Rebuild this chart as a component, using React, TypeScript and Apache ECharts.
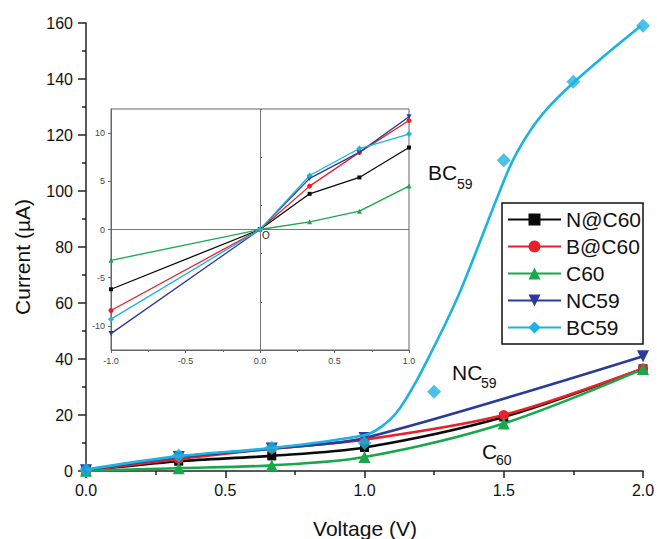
import React, { useEffect, useRef } from "react";
import * as echarts from "echarts";

// ---- main panel data (Voltage in V, Current in µA) ----
const voltage = [0, 0.333, 0.667, 1.0, 1.5, 2.0];
const nAtC60 = [0.2, 3.5, 5.4, 8.4, 19.3, 36.5];
const bAtC60 = [0.2, 4.3, 8.0, 11.2, 20.0, 36.6];
const c60 = [0.1, 1.0, 2.0, 5.0, 17.0, 36.4];
const nc59Voltage = [0, 0.333, 0.667, 1.0, 2.0];
const nc59 = [0.3, 5.0, 8.0, 11.8, 41.0];
const bc59Voltage = [0, 0.333, 0.667, 1.0, 1.25, 1.5, 1.75, 2.0];
const bc59 = [0.4, 5.5, 8.3, 10.0, 28.3, 111, 139, 159];
const bc59FitVoltage = [0, 0.333, 0.667, 1.0, 1.056, 1.116, 1.18, 1.235, 1.29, 1.343, 1.415, 1.478, 1.533, 1.605, 1.666, 1.749, 1.846, 1.992];
const bc59FitCurrent = [0.5, 5.3, 8.2, 12.8, 15.5, 21.0, 31.0, 41.5, 52.5, 64.0, 82.0, 98.0, 111.0, 123.0, 130.5, 138.6, 147.0, 158.9];

// ---- inset data ----
const insetVoltage = [-1, 0, 0.333, 0.667, 1];
const insetNAtC60 = [-6.2, 0, 3.7, 5.4, 8.5];
const insetBAtC60 = [-8.4, 0, 4.5, 8.0, 11.3];
const insetC60 = [-3.2, 0, 0.8, 1.9, 4.5];
const insetNC59 = [-10.8, 0, 5.3, 8.0, 11.7];
const insetBC59 = [-9.3, 0, 5.6, 8.4, 9.9];
const insetYTicks = [-10, -5, 0, 5, 10];
const insetYMinorTicks = [-12.5, -7.5, -2.5, 2.5, 7.5, 12.5];

const legendNames = ["N@C60", "B@C60", "C60", "NC59", "BC59"];

const FONT = "Liberation Sans, Arial, Helvetica, sans-serif";
const COL = {
  n: "#0a0a0a",
  b: "#e8212b",
  c: "#18a84b",
  nc: "#2b3b99",
  bc: "#1bb3e0",
};

const zip = (xs: number[], ys: number[]) => xs.map((x, i) => [x, ys[i]]);

export default function App() {
  const ref = useRef<HTMLDivElement>(null);

  useEffect(() => {
    if (!ref.current) return;
    const chart = echarts.init(ref.current, null, { renderer: "svg" });

    const mainLine = (name: string, xs: number[], ys: number[], color: string, symbol: string, size: number, rotate = 0) => ({
      name,
      type: "line",
      xAxisIndex: 0,
      yAxisIndex: 0,
      data: zip(xs, ys),
      smooth: 0.3,
      symbol,
      symbolSize: size,
      symbolRotate: rotate,
      lineStyle: { color, width: 2.6 },
      itemStyle: { color },
      z: 3,
    });

    const insetLine = (name: string, ys: number[], color: string, symbol: string, size: number, rotate = 0) => ({
      name,
      type: "line",
      xAxisIndex: 1,
      yAxisIndex: 1,
      data: zip(insetVoltage, ys),
      symbol,
      symbolSize: size,
      symbolRotate: rotate,
      lineStyle: { color, width: 1.3 },
      itemStyle: { color },
      z: 6,
    });

    const axisCol = "#222";
    const insetCol = "#666";

    chart.setOption({
      animation: false,
      backgroundColor: "#fff",
      textStyle: { fontFamily: FONT },
      grid: [
        { left: 86, top: 23, right: 14, bottom: 68, outerBoundsMode: "none", containLabel: false },
        {
          left: 111,
          top: 109,
          width: 298,
          height: 241,
          show: true,
          backgroundColor: "#fff",
          borderColor: insetCol,
          borderWidth: 1,
          outerBoundsMode: "none",
          containLabel: false,
          z: 5,
        },
      ],
      legend: {
        show: true,
        orient: "vertical",
        left: 502,
        top: 203,
        data: legendNames,
        itemWidth: 53,
        itemHeight: 15,
        itemGap: 6,
        padding: [6, 2, 6, 5],
        borderColor: "#111",
        borderWidth: 1.5,
        backgroundColor: "#fff",
        selectedMode: false,
        textStyle: { fontSize: 21, fontFamily: FONT, color: "#111" },
        z: 10,
      },
      xAxis: [
        {
          gridIndex: 0,
          type: "value",
          min: 0,
          max: 2,
          interval: 0.5,
          axisLine: { onZero: false, lineStyle: { color: axisCol, width: 1.5 } },
          axisTick: { show: true, length: 7, lineStyle: { color: axisCol, width: 1.5 } },
          minorTick: { show: true, splitNumber: 2, length: 4, lineStyle: { color: axisCol, width: 1.5 } },
          axisLabel: {
            fontSize: 16,
            color: "#111",
            fontFamily: FONT,
            margin: 11,
            formatter: (v: number) => v.toFixed(1),
          },
          splitLine: { show: false },
        },
        {
          gridIndex: 1,
          type: "value",
          min: -1,
          max: 1,
          interval: 0.5,
          axisLine: { onZero: false, lineStyle: { color: insetCol, width: 1 } },
          axisTick: { show: true, length: 3, lineStyle: { color: insetCol, width: 1 } },
          minorTick: { show: true, splitNumber: 2, length: 2, lineStyle: { color: insetCol, width: 1 } },
          axisLabel: {
            fontSize: 9,
            color: "#444",
            fontFamily: FONT,
            margin: 6,
            formatter: (v: number) => v.toFixed(1),
          },
          splitLine: { show: false },
          z: 6,
        },
      ],
      yAxis: [
        {
          gridIndex: 0,
          type: "value",
          min: 0,
          max: 160,
          interval: 20,
          axisLine: { show: true, onZero: false, lineStyle: { color: axisCol, width: 1.5 } },
          axisTick: { show: true, length: 8, lineStyle: { color: axisCol, width: 1.5 } },
          minorTick: { show: true, splitNumber: 2, length: 4, lineStyle: { color: axisCol, width: 1.5 } },
          axisLabel: { fontSize: 16, color: "#111", fontFamily: FONT, margin: 13 },
          splitLine: { show: false },
        },
        {
          gridIndex: 1,
          type: "value",
          min: -12.5,
          max: 12.5,
          axisLine: { show: true, onZero: false, lineStyle: { color: insetCol, width: 1 } },
          axisTick: { show: true, length: 3, customValues: insetYTicks, lineStyle: { color: insetCol, width: 1 } },
          axisLabel: {
            fontSize: 9,
            color: "#444",
            fontFamily: FONT,
            margin: 6,
            customValues: insetYTicks,
          },
          splitLine: { show: false },
          z: 6,
        },
        {
          gridIndex: 1,
          type: "value",
          min: -12.5,
          max: 12.5,
          axisLine: { show: false },
          axisTick: { show: true, length: 2, customValues: insetYMinorTicks, lineStyle: { color: insetCol, width: 1 } },
          axisLabel: { show: false },
          splitLine: { show: false },
          z: 6,
        },
      ],
      series: [
        mainLine("N@C60", voltage, nAtC60, COL.n, "rect", 9),
        mainLine("B@C60", voltage, bAtC60, COL.b, "circle", 10),
        mainLine("C60", voltage, c60, COL.c, "triangle", 12),
        mainLine("NC59", nc59Voltage, nc59, COL.nc, "triangle", 12, 180),
        {
          name: "BC59",
          type: "line",
          xAxisIndex: 0,
          yAxisIndex: 0,
          data: zip(bc59FitVoltage, bc59FitCurrent),
          smooth: 0.35,
          showSymbol: false,
          symbol: "diamond",
          symbolSize: 14,
          lineStyle: { color: COL.bc, width: 2.6 },
          itemStyle: { color: COL.bc },
          z: 4,
        },
        {
          name: "BC59 points",
          type: "scatter",
          xAxisIndex: 0,
          yAxisIndex: 0,
          data: zip(bc59Voltage, bc59),
          symbol: "diamond",
          symbolSize: 14,
          itemStyle: { color: COL.bc },
          z: 4,
        },
        {
          name: "inset zero lines",
          type: "line",
          xAxisIndex: 1,
          yAxisIndex: 1,
          data: [],
          z: 5,
          markLine: {
            silent: true,
            symbol: "none",
            label: { show: false },
            lineStyle: { color: "#777", width: 1, type: "solid" },
            data: [{ xAxis: 0 }, { yAxis: 0 }],
          },
        },
        insetLine("N@C60 inset", insetNAtC60, COL.n, "rect", 4),
        insetLine("B@C60 inset", insetBAtC60, COL.b, "circle", 5),
        insetLine("C60 inset", insetC60, COL.c, "triangle", 5),
        insetLine("NC59 inset", insetNC59, COL.nc, "triangle", 5, 180),
        insetLine("BC59 inset", insetBC59, COL.bc, "diamond", 6),
      ],
      graphic: [
        { type: "text", x: 365, y: 528, z: 20, style: { text: "Voltage (V)", font: `21px ${FONT}`, fill: "#111", align: "center", verticalAlign: "middle" } },
        { type: "text", x: 22, y: 257, rotation: Math.PI / 2, z: 20, style: { text: "Current (µA)", font: `21px ${FONT}`, fill: "#111", align: "center", verticalAlign: "middle" } },
        { type: "text", x: 428, y: 172, z: 20, style: { text: "BC", font: `21px ${FONT}`, fill: "#111", align: "left", verticalAlign: "middle" } },
        { type: "text", x: 457, y: 184, z: 20, style: { text: "59", font: `14px ${FONT}`, fill: "#111", align: "left", verticalAlign: "middle" } },
        { type: "text", x: 452, y: 372, z: 20, style: { text: "NC", font: `21px ${FONT}`, fill: "#111", align: "left", verticalAlign: "middle" } },
        { type: "text", x: 481, y: 383, z: 20, style: { text: "59", font: `14px ${FONT}`, fill: "#111", align: "left", verticalAlign: "middle" } },
        { type: "text", x: 482, y: 451, z: 20, style: { text: "C", font: `21px ${FONT}`, fill: "#111", align: "left", verticalAlign: "middle" } },
        { type: "text", x: 496, y: 460, z: 20, style: { text: "60", font: `14px ${FONT}`, fill: "#111", align: "left", verticalAlign: "middle" } },
        { type: "text", x: 266, y: 235, z: 20, style: { text: "O", font: `10px ${FONT}`, fill: "#222", align: "center", verticalAlign: "middle" } },
      ],
    });

    return () => chart.dispose();
  }, []);

  return <div ref={ref} style={{ position: "fixed", left: 0, top: 0, width: 657, height: 539 }} />;
}
